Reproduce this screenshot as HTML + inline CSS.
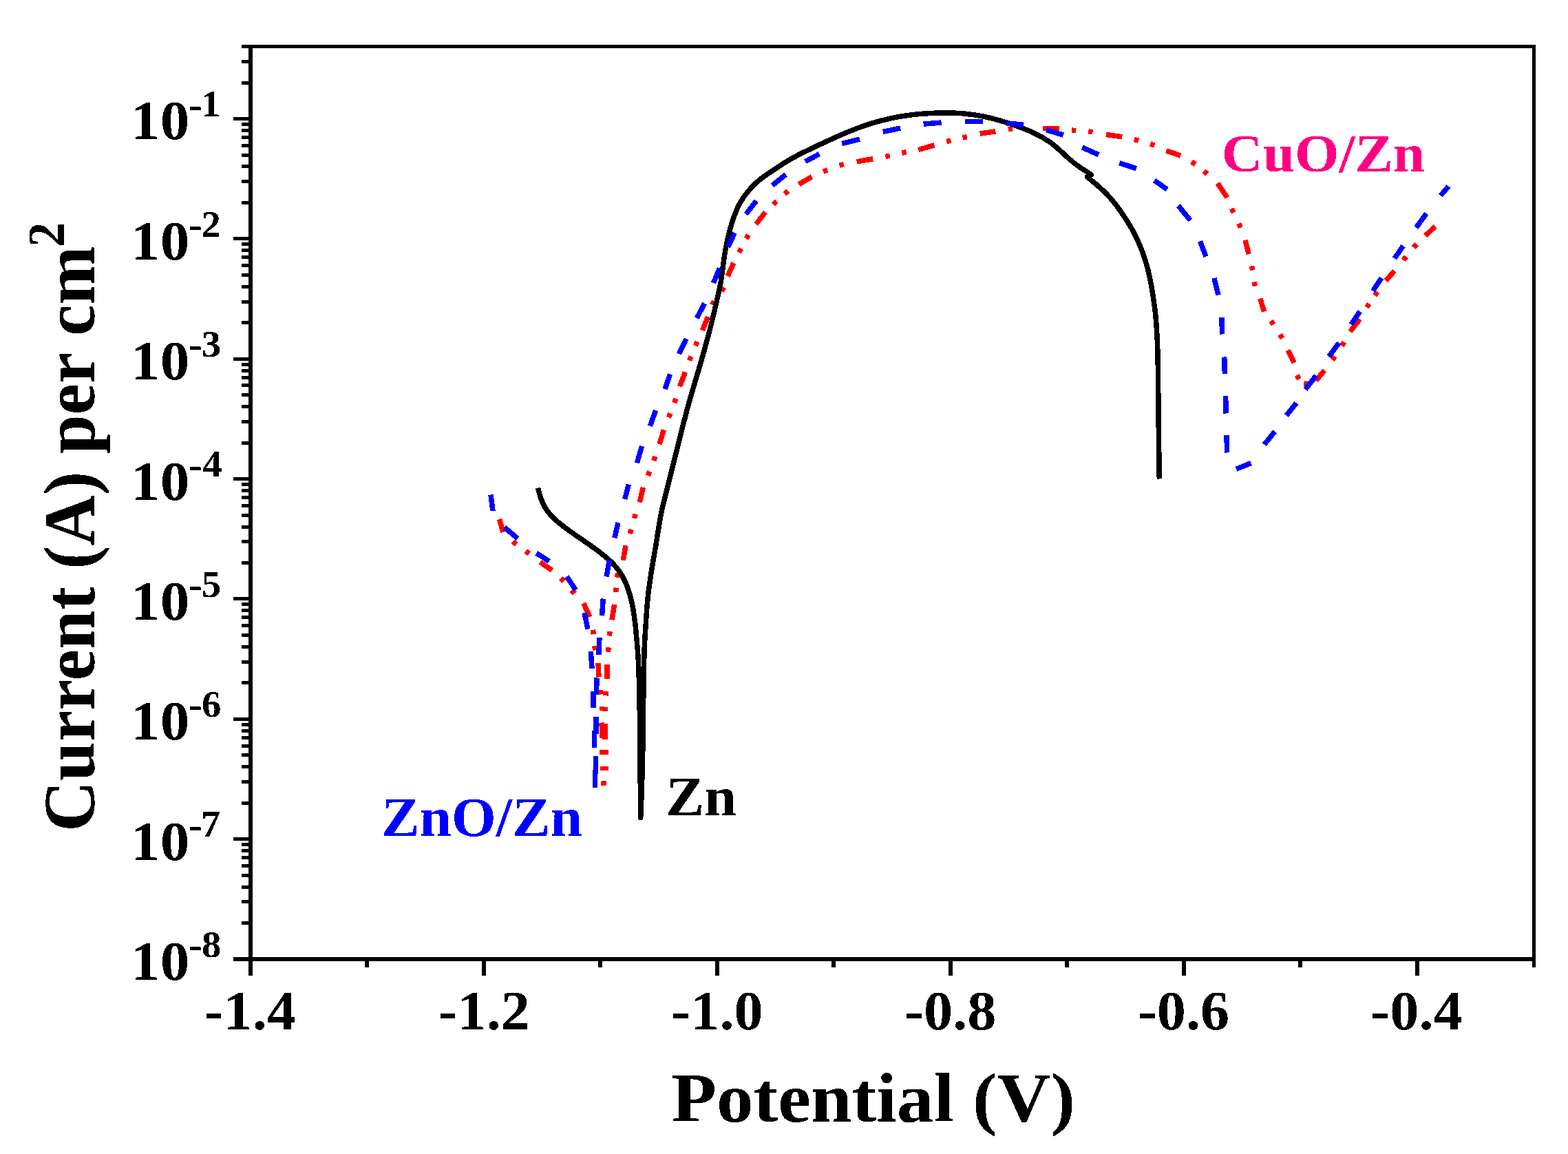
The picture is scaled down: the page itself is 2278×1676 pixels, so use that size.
<!DOCTYPE html><html><head><meta charset="utf-8"><title>Polarization curves</title><style>html,body{margin:0;padding:0;background:#fff;}svg{display:block;}text{font-family:"Liberation Serif","Times New Roman",serif;font-weight:bold;}</style></head><body>
<svg width="2278" height="1676" viewBox="0 0 2278 1676">
<rect x="0" y="0" width="2278" height="1676" fill="#fff"/>
<defs><filter id="crisp" x="-5%" y="-20%" width="110%" height="140%" color-interpolation-filters="sRGB"><feComponentTransfer><feFuncA type="discrete" tableValues="0 1"/></feComponentTransfer></filter></defs>
<path d="M725.5 754L731 773M745.2 786.5L750.2 790.7M763.7 800.3L768.9 804.1M784.8 816.4L802.2 828.4M814.6 839.7L819.2 844.3M830.5 857.2L834.9 862M847.8 876.2L856.9 896.2M861.3 914.8L862.3 921.2M863.8 938L864.8 944.4M869 962.7L870 983.5M872.4 1002.1L873 1008.5M874.4 1025.8L874.6 1032.2M874.2 1049.5L874.5 1072M874.7 1089.3L874.9 1095.7M875.3 1112.8L875.7 1119.2M876.8 1134.3L877.2 1140.7M879.8 1119.2L879.8 1112.8M879.8 1095.7L879.8 1089.3M879.2 1073.6L879.2 1051M878.9 1033.2L879.1 1026.8M879.8 1010.4L880.2 1004M881.8 986.3L881.8 964.5M883.5 946.7L884.1 940.3M885.3 923.5L886.1 917.1M889 900.4L892.6 878M894.7 860L895.3 853.6M896.1 838.8L897.7 832.4M905.3 813.9L909 792.1M915.2 775.2L917.2 769M921.5 752.9L923.3 746.7M929.2 729.5L934.5 707.8M941.4 690.8L943.8 684.8M949.7 669.1L951.9 662.9M958 645.1L964.4 624.2M971.4 606.4L973.8 600.4M979.7 585.1L981.9 578.9M987.5 561.3L995.5 540.5M1001.6 523.6L1004 517.6M1010.5 502.2L1013.1 496.2M1020.3 480L1028.6 460M1034.5 442.9L1037.5 437.1M1048.3 423.1L1051.5 417.3M1057.1 401.2L1065.9 381.8M1073.6 366.8L1076.6 361M1084 346.8L1087.4 341.2M1098.3 325.6L1111.9 308.1M1123.5 296.7L1128.3 292.3M1139.8 281.5L1145 277.5M1160.5 267.7L1179.4 256.7M1196.1 249.2L1202.1 246.8M1219.6 240.3L1225.8 238.5M1244.7 234.8L1268.1 230.8M1286.3 227.5L1292.7 226.1M1310.3 222.2L1316.7 220.8M1334.2 217.5L1357.6 210.8M1375.2 205.6L1381.4 204M1398.5 200.1L1404.9 198.7M1423.7 194.1L1446.4 190.8M1464.6 187.6L1471 187.2M1515.4 186.7L1538.8 186.7M1556.9 189.1L1563.3 189.7M1581.2 191L1587.6 191.8M1606.9 195.4L1630.3 198.8M1647.9 202.6L1654.1 204.2M1671.2 209L1677.4 211.2M1694.4 218.8L1715.1 226.1M1731.1 235L1736.5 238.6M1748.8 248.4L1753.8 252.6M1769 266L1782.8 287M1789.5 302.9L1792.1 308.9M1799.7 324.7L1802.3 330.7M1809 348.8L1814.1 369.1M1818.5 386.2L1819.7 392.6M1822 409.5L1823.6 415.7M1830.8 433.7L1836.6 452.6M1846.5 465.9L1850.1 471.3M1859.7 485.8L1862.9 491.4M1870.9 508.7L1880.3 526.8M1884.2 545.1L1887.4 550.7M1894.2 556.7L1900.6 557.9M1911.9 553L1924.2 537.7M1935.8 523L1939.6 517.6M1949.4 502.4L1952.8 496.8M1961.5 481.5L1975.6 463.4M1985.6 446.5L1989.2 441.1M1997.3 429.1L2001.1 423.9M2013.4 407.6L2026 393.4M2038.8 377.8L2043 372.8M2053.7 359.6L2058.1 354.8M2070.8 342.3L2085 328.9" fill="none" stroke="#ff0000" stroke-width="7.5" stroke-linecap="butt" shape-rendering="crispEdges"/>
<path d="M781.6 708.5C782.2 710.8 783.8 718 785.3 722.4C786.9 726.9 788.6 731.2 790.8 735.2C793 739.2 795.6 742.8 798.6 746.3C801.7 749.9 805.2 753.2 808.8 756.5C812.5 759.7 816.5 762.9 820.5 766C824.5 769 828.6 771.8 832.6 774.7C836.6 777.5 840.7 780.2 844.7 783C848.8 785.9 852.8 788.7 856.9 791.5C860.9 794.4 865 797.3 869 800.3C873 803.4 877.1 806.5 880.9 809.8C884.7 813 888.5 816.5 891.8 820C895 823.5 897.9 827.1 900.5 830.8C903.1 834.6 905.2 838.3 907.1 842.4C909.1 846.4 910.7 850.4 912.3 855C913.9 859.6 915.3 864.5 916.6 869.8C918 875.2 919.1 880.9 920.2 887.1C921.2 893.2 922.1 900 922.9 906.7C923.7 913.4 924.3 920.7 924.9 927.2C925.5 933.8 926 938.2 926.5 945.8C927 953.3 927.5 959.6 928 972.7C928.4 985.8 928.9 1005.1 929.2 1024.5C929.5 1043.9 929.6 1069.4 929.8 1089.2C930 1108.9 930.2 1126.7 930.3 1143.1C930.5 1159.5 930.6 1180.1 930.7 1187.5L930.7 1187.5C931 1180.1 931.9 1159.5 932.5 1143.1C933 1126.7 933.4 1108.9 933.8 1089.2C934.1 1069.4 934.4 1044.1 934.6 1024.5C934.9 1004.9 935.2 985.2 935.5 971.5C935.7 957.8 935.9 950.1 936.2 942.1C936.5 934.2 936.8 930.1 937.1 923.8C937.5 917.4 937.9 910.9 938.4 903.8C938.9 896.6 939.4 888.2 940 880.9C940.6 873.6 941.4 866.3 942.1 859.7C942.9 853.2 943.7 847.5 944.6 841.7C945.4 835.8 946.3 830.4 947.2 824.7C948.1 819.1 949.1 813.4 950.1 807.8C951.1 802.1 952 796.5 953 790.8C953.9 785.2 954.8 779.5 955.7 773.9C956.6 768.2 957.5 762.7 958.5 756.9C959.5 751.2 960.5 745.7 961.8 739.5C963.2 733.3 964.9 726.9 966.6 719.8C968.4 712.7 970.5 705.1 972.5 696.9C974.6 688.7 976.9 679.3 979 670.5C981.2 661.7 983.6 651.9 985.5 644.2C987.4 636.5 988.9 630.7 990.5 624.5C992.1 618.3 993.3 613.7 995 607.1C996.8 600.6 998.7 593 1000.9 585.3C1003 577.6 1005.5 569.2 1007.9 561.1C1010.2 553 1012.8 544.6 1015.1 536.9C1017.3 529.2 1019.5 521.6 1021.4 515C1023.2 508.4 1024.7 502.9 1026.3 497.2C1027.9 491.6 1029.3 486.4 1030.8 480.8C1032.2 475.3 1033.7 469.5 1035 463.9C1036.4 458.3 1037.8 452.4 1039 447C1040.3 441.5 1041.6 435.9 1042.6 431.2C1043.7 426.6 1044.5 423 1045.3 419C1046.2 415 1046.8 411.9 1047.6 407.1C1048.3 402.4 1049.1 396.3 1049.9 390.5C1050.7 384.7 1051.5 378 1052.4 372.3C1053.3 366.7 1054.2 361.6 1055.2 356.6C1056.2 351.6 1057.2 346.9 1058.3 342.1C1059.5 337.2 1060.8 332.4 1062.2 327.5C1063.7 322.7 1065.3 317.7 1067 313C1068.8 308.2 1070.7 303.5 1072.8 299.1C1075 294.8 1077.3 290.9 1079.9 287.1C1082.5 283.2 1085.4 279.6 1088.3 276.2C1091.3 272.7 1094.6 269.3 1097.8 266.2C1101 263.2 1104.3 260.6 1107.5 258.1C1110.7 255.7 1113.6 253.9 1117 251.6C1120.3 249.3 1123.5 247 1127.7 244.3C1131.8 241.6 1136.3 238.4 1141.6 235.3C1146.9 232.1 1152.9 228.7 1159.3 225.3C1165.8 221.9 1173.1 218.5 1180.3 215C1187.6 211.5 1195.1 208 1202.9 204.5C1210.7 200.9 1218.8 197.1 1227.2 193.6C1235.6 190.1 1244.6 186.4 1253.4 183.4C1262.2 180.3 1271.2 177.5 1280.1 175.2C1289 172.9 1298 170.9 1306.9 169.4C1315.8 167.8 1325 166.7 1333.6 165.8C1342.2 165 1350.8 164.5 1358.6 164.2C1366.4 163.9 1373.1 163.8 1380.3 164C1387.5 164.1 1394.2 164.3 1402 165.2C1409.8 166 1418.4 167.1 1427.1 168.8C1435.7 170.5 1444.9 172.8 1453.8 175.4C1462.7 178 1471.8 181 1480.4 184.2C1488.9 187.5 1497.6 190.9 1505.1 194.6C1512.7 198.3 1519.5 202.4 1525.5 206.6C1531.6 210.8 1536.5 215.5 1541.3 219.7C1546.1 223.8 1550.3 228.2 1554.4 231.7C1558.5 235.2 1562.4 238.3 1566 240.9C1569.6 243.6 1572.9 245.6 1576.2 247.7C1579.4 249.8 1583.9 252.8 1585.5 253.8L1579.5 256.8C1580.3 257.5 1582.1 259 1584.6 261.1C1587.1 263.3 1590.7 266.1 1594.5 269.4C1598.2 272.8 1602.9 276.8 1607 281.1C1611.2 285.4 1615.4 290.1 1619.3 295.1C1623.3 300 1627.1 305.4 1630.8 310.8C1634.5 316.1 1638 321.5 1641.4 327.3C1644.8 333.1 1648.1 339.1 1651.1 345.5C1654.1 351.9 1657 358.6 1659.6 365.4C1662.1 372.3 1664.4 379.2 1666.4 386.6C1668.4 394 1670.1 401.9 1671.7 409.9C1673.3 418 1674.7 426.5 1675.9 434.9C1677.1 443.3 1678.2 451.5 1679.1 460.3C1679.9 469.2 1680.5 478.4 1681 488C1681.5 497.6 1681.8 506.6 1682.1 517.8C1682.3 529 1682.4 539.1 1682.6 555.4C1682.8 571.7 1682.9 592.2 1683.2 615.6C1683.5 638.9 1684.1 682.2 1684.3 695.5" fill="none" stroke="#000" stroke-width="7.5" stroke-linejoin="round" stroke-linecap="butt" shape-rendering="crispEdges"/>
<path d="M713 718.5L716 742M733 766L752 782M779.3 803.3L797.9 815.3M823.5 837.5L836.5 857M849 890.1L853.9 913.7M858.3 946.3L860 970.8M861.8 1004.4L861.8 1028M863.4 1061.2L863.4 1086M864.3 1118L864.5 1143.7M865.5 1123.7L865.5 1098M866.1 1065.6L866.1 1040.9M866.3 1009L867.2 984.5M869.9 950.9L870.9 926.3M874.5 894.3L876.3 869.5M881.1 837.5L885.4 813.3M892.9 781.2L898 759M907.7 725L913.3 703.5M925.4 672.4L932.6 647.9M944.4 618.8L952.6 596.1M966.2 565.2L973.5 543.5M986.5 514L997 492M1012.4 462L1023.5 440.5M1036.5 411L1045.5 389.5M1057.6 359L1067.3 338.2M1083.8 311L1098.8 291.7M1122 269.3L1141.6 253.5M1170 234.6L1190.4 223.6M1223 208.5L1249 202.2M1282.8 191.4L1308.2 186.1M1341.6 180.1L1367.6 178.1M1402.4 176.3L1427.7 176.3M1461.8 178.7L1487.2 181.4M1520.1 188.7L1544.8 196.1M1572.2 214.1L1596.2 224.8M1626.3 236.8L1651 244.8M1677 262.2L1695.7 274.9M1711.9 298.6L1729.2 320M1743.5 350.4L1752 372.6M1764 403.9L1770 428.5M1774.8 461.2L1775.7 485.5M1778.7 518.5L1779.4 543.2M1780.6 575.1L1781.2 600.5M1782 632.2L1782.6 657.5M1796.1 681.2L1817.5 672.5M1836.8 645.6L1852.1 626.7M1868.8 603.5L1883.3 585.3M1896.5 565.5L1912 545.5M1930.5 517.9L1945.2 498M1963 471.3L1975.6 452.4M1994.5 422.5L2007.1 403.7M2026 375.3L2038.6 357.2M2057.5 330.5L2072.4 310M2092.9 284.1L2104.5 270.5" fill="none" stroke="#0000ff" stroke-width="7.5" stroke-linecap="butt" shape-rendering="crispEdges"/>
<g fill="#000" shape-rendering="crispEdges"><rect x="351" y="65" width="1880" height="5"/><rect x="361" y="65" width="6" height="1352"/><rect x="339" y="1390" width="1892" height="6"/><rect x="2226" y="65" width="5" height="1340"/><rect x="339" y="170" width="22" height="5"/><rect x="339" y="344.4" width="22" height="5"/><rect x="339" y="518.7" width="22" height="5"/><rect x="339" y="693.1" width="22" height="5"/><rect x="339" y="867.4" width="22" height="5"/><rect x="339" y="1041.8" width="22" height="5"/><rect x="339" y="1216.1" width="22" height="5"/><rect x="339" y="1390.5" width="22" height="5"/><rect x="351" y="291.9" width="10" height="5"/><rect x="351" y="261.2" width="10" height="5"/><rect x="351" y="239.4" width="10" height="5"/><rect x="351" y="222.5" width="10" height="5"/><rect x="351" y="208.7" width="10" height="5"/><rect x="351" y="197" width="10" height="5"/><rect x="351" y="186.9" width="10" height="5"/><rect x="351" y="178" width="10" height="5"/><rect x="351" y="466.2" width="10" height="5"/><rect x="351" y="435.5" width="10" height="5"/><rect x="351" y="413.7" width="10" height="5"/><rect x="351" y="396.8" width="10" height="5"/><rect x="351" y="383" width="10" height="5"/><rect x="351" y="371.4" width="10" height="5"/><rect x="351" y="361.3" width="10" height="5"/><rect x="351" y="352.3" width="10" height="5"/><rect x="351" y="640.6" width="10" height="5"/><rect x="351" y="609.9" width="10" height="5"/><rect x="351" y="588.1" width="10" height="5"/><rect x="351" y="571.2" width="10" height="5"/><rect x="351" y="557.4" width="10" height="5"/><rect x="351" y="545.7" width="10" height="5"/><rect x="351" y="535.6" width="10" height="5"/><rect x="351" y="526.7" width="10" height="5"/><rect x="351" y="814.9" width="10" height="5"/><rect x="351" y="784.2" width="10" height="5"/><rect x="351" y="762.5" width="10" height="5"/><rect x="351" y="745.6" width="10" height="5"/><rect x="351" y="731.8" width="10" height="5"/><rect x="351" y="720.1" width="10" height="5"/><rect x="351" y="710" width="10" height="5"/><rect x="351" y="701" width="10" height="5"/><rect x="351" y="989.3" width="10" height="5"/><rect x="351" y="958.6" width="10" height="5"/><rect x="351" y="936.8" width="10" height="5"/><rect x="351" y="919.9" width="10" height="5"/><rect x="351" y="906.1" width="10" height="5"/><rect x="351" y="894.4" width="10" height="5"/><rect x="351" y="884.3" width="10" height="5"/><rect x="351" y="875.4" width="10" height="5"/><rect x="351" y="1163.7" width="10" height="5"/><rect x="351" y="1133" width="10" height="5"/><rect x="351" y="1111.2" width="10" height="5"/><rect x="351" y="1094.3" width="10" height="5"/><rect x="351" y="1080.5" width="10" height="5"/><rect x="351" y="1068.8" width="10" height="5"/><rect x="351" y="1058.7" width="10" height="5"/><rect x="351" y="1049.8" width="10" height="5"/><rect x="351" y="1338" width="10" height="5"/><rect x="351" y="1307.3" width="10" height="5"/><rect x="351" y="1285.5" width="10" height="5"/><rect x="351" y="1268.6" width="10" height="5"/><rect x="351" y="1254.8" width="10" height="5"/><rect x="351" y="1243.2" width="10" height="5"/><rect x="351" y="1233" width="10" height="5"/><rect x="351" y="1224.1" width="10" height="5"/><rect x="351" y="117.5" width="10" height="5"/><rect x="351" y="86.8" width="10" height="5"/><rect x="361" y="1396" width="6" height="21"/><rect x="700" y="1396" width="6" height="21"/><rect x="1039" y="1396" width="6" height="21"/><rect x="1378" y="1396" width="6" height="21"/><rect x="1717" y="1396" width="6" height="21"/><rect x="2056" y="1396" width="6" height="21"/><rect x="530" y="1396" width="6" height="9"/><rect x="869" y="1396" width="6" height="9"/><rect x="1208" y="1396" width="6" height="9"/><rect x="1547" y="1396" width="6" height="9"/><rect x="1886" y="1396" width="6" height="9"/><rect x="2226" y="1396" width="5" height="9"/></g>
<g filter="url(#crisp)">
<text transform="translate(190.1 202.4) scale(1.0604 1)" font-size="80.3" fill="#000">10</text>
<text transform="translate(273.8 170.5) scale(1.1200 1)" font-size="54" fill="#000">-</text>
<text transform="translate(292.5 169.2) scale(1.0500 1)" font-size="54" fill="#000">1</text>
<text transform="translate(190.1 376.8) scale(1.0604 1)" font-size="80.3" fill="#000">10</text>
<text transform="translate(273.8 344.9) scale(1.1200 1)" font-size="54" fill="#000">-</text>
<text transform="translate(292.6 343.6) scale(1.0500 1)" font-size="54" fill="#000">2</text>
<text transform="translate(190.1 551.1) scale(1.0604 1)" font-size="80.3" fill="#000">10</text>
<text transform="translate(273.8 519.2) scale(1.1200 1)" font-size="54" fill="#000">-</text>
<text transform="translate(292.8 517.9) scale(1.0500 1)" font-size="54" fill="#000">3</text>
<text transform="translate(190.1 725.5) scale(1.0604 1)" font-size="80.3" fill="#000">10</text>
<text transform="translate(273.8 693.6) scale(1.1200 1)" font-size="54" fill="#000">-</text>
<text transform="translate(294.2 692.3) scale(1.0500 1)" font-size="54" fill="#000">4</text>
<text transform="translate(190.1 899.8) scale(1.0604 1)" font-size="80.3" fill="#000">10</text>
<text transform="translate(273.8 867.9) scale(1.1200 1)" font-size="54" fill="#000">-</text>
<text transform="translate(292.7 866.6) scale(1.0500 1)" font-size="54" fill="#000">5</text>
<text transform="translate(190.1 1074.2) scale(1.0604 1)" font-size="80.3" fill="#000">10</text>
<text transform="translate(273.8 1042.3) scale(1.1200 1)" font-size="54" fill="#000">-</text>
<text transform="translate(293.1 1041) scale(1.0500 1)" font-size="54" fill="#000">6</text>
<text transform="translate(190.1 1248.5) scale(1.0604 1)" font-size="80.3" fill="#000">10</text>
<text transform="translate(273.8 1216.6) scale(1.1200 1)" font-size="54" fill="#000">-</text>
<text transform="translate(291.8 1215.3) scale(1.0500 1)" font-size="54" fill="#000">7</text>
<text transform="translate(190.1 1422.9) scale(1.0604 1)" font-size="80.3" fill="#000">10</text>
<text transform="translate(273.8 1391) scale(1.1200 1)" font-size="54" fill="#000">-</text>
<text transform="translate(293.1 1389.7) scale(1.0500 1)" font-size="54" fill="#000">8</text>
<text transform="translate(296.5 1494.8) scale(1.0500 1)" font-size="80.3" fill="#000">-1.4</text>
<text transform="translate(636.5 1494.8) scale(1.0500 1)" font-size="80.3" fill="#000">-1.2</text>
<text transform="translate(975.2 1494.8) scale(1.0500 1)" font-size="80.3" fill="#000">-1.0</text>
<text transform="translate(1313.9 1494.8) scale(1.0500 1)" font-size="80.3" fill="#000">-0.8</text>
<text transform="translate(1652.7 1494.8) scale(1.0500 1)" font-size="80.3" fill="#000">-0.6</text>
<text transform="translate(1991.2 1494.8) scale(1.0500 1)" font-size="80.3" fill="#000">-0.4</text>
<text transform="translate(975.4 1629.4) scale(1.0512 1)" font-size="102" fill="#000">Potential (V)</text>
<g transform="translate(136.8 1207.8) scale(1.045 1) rotate(-90)"><text x="0" y="0" font-size="102.2" fill="#000">Current (A) per cm</text></g>
<g transform="translate(92.9 358.7) scale(1.045 1) rotate(-90)"><text x="0" y="0" font-size="72" fill="#000">2</text></g>
<text transform="translate(554 1213.5) scale(1.0421 1)" font-size="80" fill="#0000ff">ZnO/Zn</text>
<text transform="translate(967.3 1183.6) scale(1.0474 1)" font-size="80" fill="#000">Zn</text>
<text transform="translate(1774.8 248.9) scale(1.0466 1)" font-size="79.3" fill="#ff0080">CuO/Zn</text>
</g>
</svg></body></html>
